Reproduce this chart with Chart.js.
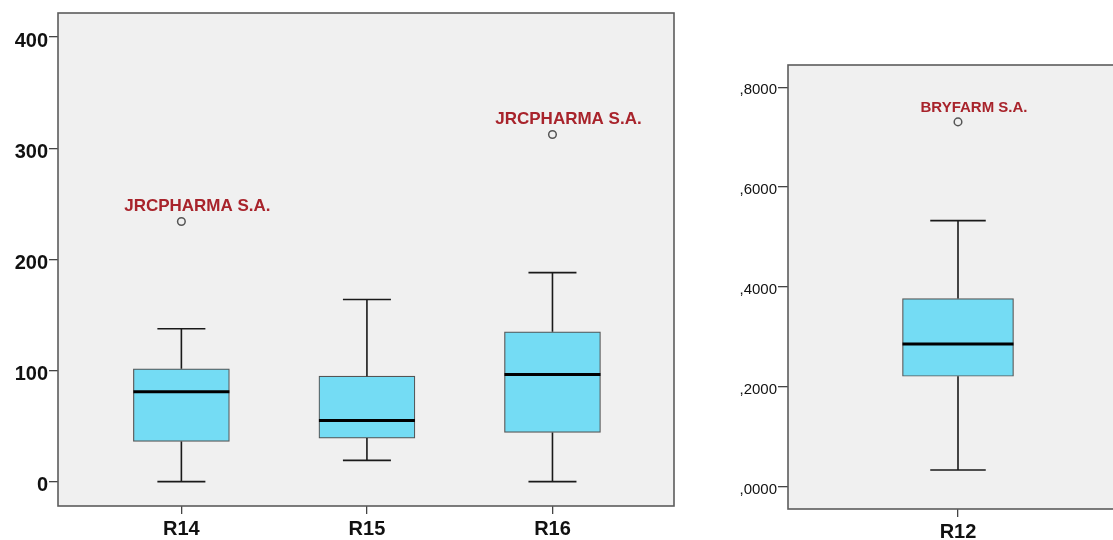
<!DOCTYPE html>
<html>
<head>
<meta charset="utf-8">
<script src="https://cdn.jsdelivr.net/npm/chart.js@4.4.1/dist/chart.umd.min.js"></script>
<style>
  html, body { margin: 0; padding: 0; background: #fff; overflow: hidden; }
  body { width: 1113px; height: 540px; position: relative; }
  #leftChart { position: absolute; left: 0; top: 0; }
  #rightChart { position: absolute; left: 700px; top: 0; }
</style>
</head>
<body>
<canvas id="leftChart" width="700" height="540"></canvas>
<canvas id="rightChart" width="440" height="540"></canvas>
<script>
// left panel: R14, R15, R16
const leftCategories = ['R14', 'R15', 'R16'];
const leftLow = [0, 19.1, 0];
const leftQ1 = [36.2, 39.2, 44.3];
const leftMedian = [80.9, 55.1, 96.4];
const leftQ3 = [101.5, 94.9, 134.8];
const leftHigh = [137.5, 163.8, 188.0];
const leftOutliers = [{ x: 0, y: 234.1 }, { x: 2, y: 312.3 }];
const leftOutlierNames = ['JRCPHARMA S.A.', 'JRCPHARMA S.A.'];

// right panel: R12
const rightCategories = ['R12'];
const rightLow = [0.0334];
const rightQ1 = [0.2211];
const rightMedian = [0.2858];
const rightQ3 = [0.3766];
const rightHigh = [0.5328];
const rightOutliers = [{ x: 0, y: 0.7305 }];
const rightOutlierNames = ['BRYFARM S.A.'];

const FONT = "'Liberation Sans', Arial, sans-serif";

// grey plot background and frame, whiskers, medians and outlier captions
const boxPlotPlugin = {
  id: 'boxPlot',
  beforeDatasetsDraw(chart) {
    const { ctx, chartArea: a } = chart;
    ctx.save();
    ctx.fillStyle = '#f0f0f0';
    ctx.fillRect(a.left, a.top, a.right - a.left, a.bottom - a.top);
    ctx.restore();
  },
  afterDatasetsDraw(chart) {
    const { ctx, chartArea: a } = chart;
    const st = chart.options.plugins.boxPlot;
    const xs = chart.scales.x, ys = chart.scales.y;
    const bars = chart.getDatasetMeta(0).data;
    ctx.save();
    st.median.forEach((m, i) => {
      const x = xs.getPixelForValue(i);
      const half = bars[i].width / 2;
      const cap = half / 2;
      ctx.strokeStyle = '#1a1a1a';
      ctx.lineWidth = 1.6;
      ctx.beginPath();
      ctx.moveTo(x, ys.getPixelForValue(st.q3[i]));
      ctx.lineTo(x, ys.getPixelForValue(st.high[i]));
      ctx.moveTo(x - cap, ys.getPixelForValue(st.high[i]));
      ctx.lineTo(x + cap, ys.getPixelForValue(st.high[i]));
      ctx.moveTo(x, ys.getPixelForValue(st.q1[i]));
      ctx.lineTo(x, ys.getPixelForValue(st.low[i]));
      ctx.moveTo(x - cap, ys.getPixelForValue(st.low[i]));
      ctx.lineTo(x + cap, ys.getPixelForValue(st.low[i]));
      ctx.stroke();
      ctx.strokeStyle = '#000';
      ctx.lineWidth = 3;
      ctx.beginPath();
      ctx.moveTo(x - half, ys.getPixelForValue(m));
      ctx.lineTo(x + half, ys.getPixelForValue(m));
      ctx.stroke();
    });
    // outlier captions
    ctx.fillStyle = '#a8232b';
    ctx.font = st.labelFont;
    ctx.textAlign = 'center';
    ctx.textBaseline = 'alphabetic';
    st.outliers.forEach((p, i) => {
      ctx.fillText(st.names[i], xs.getPixelForValue(p.x) + 16, ys.getPixelForValue(p.y) - 10);
    });
    // frame
    ctx.strokeStyle = '#5c5c5c';
    ctx.lineWidth = 1.6;
    ctx.strokeRect(a.left, a.top, a.right - a.left, a.bottom - a.top);
    ctx.restore();
  }
};

function makeBoxChart(id, cfg) {
  return new Chart(document.getElementById(id), {
    type: 'bar',
    data: {
      datasets: [{
        type: 'bar',
        data: cfg.q1.map((q, i) => ({ x: i, y: [q, cfg.q3[i]] })),
        backgroundColor: '#74dcf4',
        borderColor: '#555',
        borderWidth: 1.2,
        borderSkipped: false,
        barThickness: cfg.boxWidth
      }, {
        type: 'scatter',
        data: cfg.outliers,
        pointStyle: 'circle',
        pointRadius: 3.8,
        backgroundColor: 'rgba(0,0,0,0)',
        borderColor: '#555',
        borderWidth: 1.5
      }]
    },
    options: {
      responsive: false,
      animation: false,
      devicePixelRatio: 1,
      layout: { padding: cfg.padding },
      plugins: {
        legend: { display: false },
        tooltip: { enabled: false },
        boxPlot: {
          low: cfg.low, q1: cfg.q1, median: cfg.median, q3: cfg.q3, high: cfg.high,
          outliers: cfg.outliers, names: cfg.names, labelFont: cfg.labelFont
        }
      },
      scales: {
        x: {
          type: 'linear',
          offset: false,
          min: -cfg.xPad,
          max: cfg.categories.length - 1 + cfg.xPadRight,
          afterFit: s => { s.height = cfg.xAxisHeight; },
          border: { display: false },
          grid: { offset: false, drawOnChartArea: false, drawTicks: true, tickLength: 8, color: '#444', lineWidth: 1.3 },
          ticks: {
            stepSize: 1,
            includeBounds: false,
            autoSkip: false,
            maxRotation: 0,
            padding: 3,
            color: '#111',
            font: { family: FONT, size: 20, weight: 'bold' },
            callback: v => cfg.categories[v] || ''
          }
        },
        y: {
          min: cfg.yMin,
          max: cfg.yMax,
          afterFit: s => { s.width = cfg.yAxisWidth; },
          border: { display: false },
          grid: { drawOnChartArea: false, drawTicks: true, tickLength: cfg.yTick, color: '#444', lineWidth: 1.3 },
          ticks: {
            stepSize: cfg.yStep,
            includeBounds: false,
            padding: 1,
            labelOffset: cfg.yLabelOffset,
            color: '#111',
            font: cfg.yFont,
            callback: cfg.yFormat
          }
        }
      }
    },
    plugins: [boxPlotPlugin]
  });
}

makeBoxChart('leftChart', {
  categories: leftCategories,
  low: leftLow, q1: leftQ1, median: leftMedian, q3: leftQ3, high: leftHigh,
  outliers: leftOutliers, names: leftOutlierNames,
  labelFont: 'bold 17px ' + FONT,
  boxWidth: 96,
  xPad: 0.665, xPadRight: 0.655,
  yMin: -21.9, yMax: 421.6, yStep: 100,
  yAxisWidth: 58, yTick: 9, yLabelOffset: 4,
  xAxisHeight: 34,
  padding: { top: 12, right: 26, left: 0, bottom: 0 },
  yFont: { family: FONT, size: 20, weight: 'bold' },
  yFormat: v => String(v)
});

makeBoxChart('rightChart', {
  categories: rightCategories,
  low: rightLow, q1: rightQ1, median: rightMedian, q3: rightQ3, high: rightHigh,
  outliers: rightOutliers, names: rightOutlierNames,
  labelFont: 'bold 15px ' + FONT,
  boxWidth: 111,
  xPad: 0.66, xPadRight: 0.66,
  yMin: -0.0447, yMax: 0.8444, yStep: 0.2,
  yAxisWidth: 88, yTick: 10, yLabelOffset: 3,
  xAxisHeight: 31,
  padding: { top: 65, right: 12, left: 0, bottom: 0 },
  yFont: { family: FONT, size: 15 },
  yFormat: v => v.toFixed(4).replace(/^0\./, ',')
});
</script>
</body>
</html>
